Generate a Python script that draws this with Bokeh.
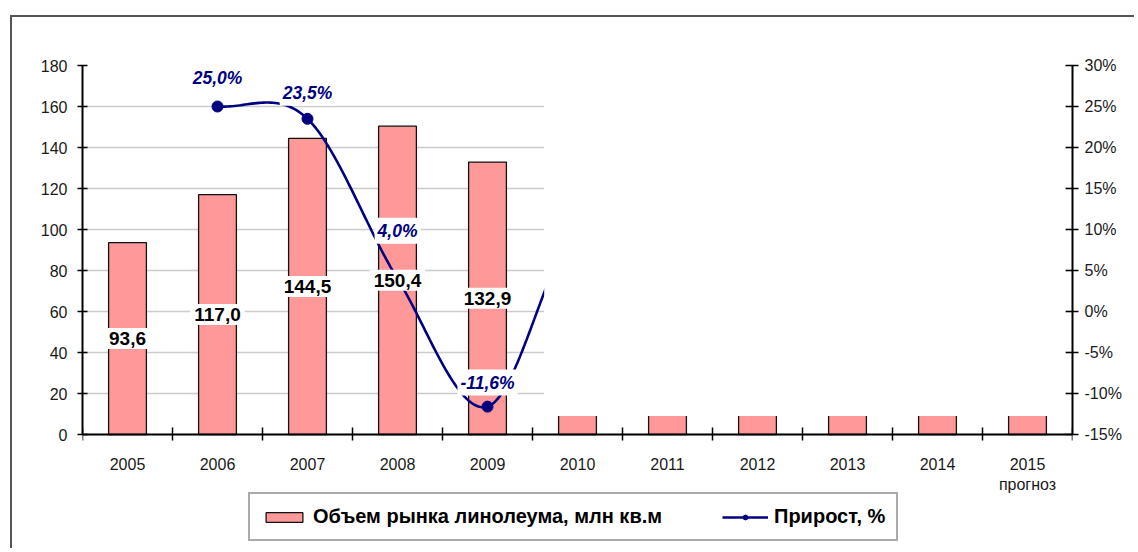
import numpy as np
from bokeh.plotting import figure
from bokeh.models import (Range1d, LinearAxis, FixedTicker, PrintfTickFormatter,
                          ColumnDataSource, BoxAnnotation, Legend, LegendItem, Grid)
from bokeh.embed import file_html
from bokeh.resources import INLINE
from bokeh.core.properties import value

# ---------------- data ----------------
years = ["2005", "2006", "2007", "2008", "2009", "2010",
         "2011", "2012", "2013", "2014", "2015"]
year_tick_labels = ["2005", "2006", "2007", "2008", "2009", "2010",
                    "2011", "2012", "2013", "2014", "2015\nпрогноз"]
# market volume, mln sq.m (2010-2015 are hidden in the source; estimated)
volume = [93.6, 117.0, 144.5, 150.4, 132.9, 146.0, 152.0, 158.0, 164.0, 170.0, 176.0]
volume_labels = ["93,6", "117,0", "144,5", "150,4", "132,9"]
# growth, %  (2010 value hidden in the source; estimated from visible curve)
growth_years = ["2006", "2007", "2008", "2009", "2010"]
growth = [25.0, 23.5, 4.0, -11.6, 10.5]
growth_labels = ["25,0%", "23,5%", "4,0%", "-11,6%"]
y_ticks_left = [0, 20, 40, 60, 80, 100, 120, 140, 160, 180]
y_ticks_right = [-15, -10, -5, 0, 5, 10, 15, 20, 25, 30]

FONT = "Liberation Sans"
NAVY = "#000080"
BAR = "#FF9999"

# ---------------- layout geometry ----------------
W, H = 1124, 533
TOP, LEFT, RIGHT = 48, 70, 64
FRAME_H = H - TOP              # frame runs to the bottom of the canvas
AXIS_H = 369                   # pixel height of the value axes (0..180 / -15..30)
extra = FRAME_H - AXIS_H       # room under the axes for tick labels and legend
L_MAX = y_ticks_left[-1]
L_MIN = y_ticks_left[0] - extra * (L_MAX - y_ticks_left[0]) / AXIS_H
R_MAX, R_MIN0 = y_ticks_right[-1], y_ticks_right[0]
R_MIN = R_MIN0 - extra * (R_MAX - R_MIN0) / AXIS_H

xc = [i + 0.5 for i in range(len(years))]

p = figure(width=W, height=H, output_backend="svg", toolbar_location=None,
           x_range=Range1d(0, len(years)), y_range=Range1d(L_MIN, L_MAX),
           min_border_left=LEFT, min_border_top=TOP, min_border_right=RIGHT,
           min_border_bottom=0, background_fill_color="white",
           border_fill_color="white")
p.styles = {"border-left": "2px solid #555555", "border-top": "2px solid #555555",
            "margin-left": "10px", "margin-top": "15px"}
p.outline_line_color = None

p.extra_y_ranges = {"pct": Range1d(R_MIN, R_MAX)}

# grid
p.xgrid.visible = False
p.ygrid.ticker = FixedTicker(ticks=y_ticks_left[:-1])
p.ygrid.grid_line_color = "#cccccc"
p.ygrid.grid_line_width = 1.5
top_line = Grid(dimension=1, ticker=FixedTicker(ticks=[L_MAX]),
                grid_line_color="#999999", grid_line_width=2)
p.add_layout(top_line)

# x axis (drawn at value 0)
xa = p.xaxis[0]
xa.fixed_location = 0
xa.ticker = FixedTicker(ticks=xc, minor_ticks=list(range(len(years) + 1)))
xa.major_label_overrides = {x: lab for x, lab in zip(xc, year_tick_labels)}
xa.major_tick_in = 0
xa.major_tick_out = 0
xa.minor_tick_in = 7
xa.minor_tick_out = 6
xa.minor_tick_line_color = "black"
xa.minor_tick_line_width = 1.5
xa.axis_line_color = "black"
xa.axis_line_width = 2
xa.major_label_standoff = 15
xa.major_label_text_font = FONT
xa.major_label_text_font_size = "16px"
xa.major_label_text_color = "#1a1a1a"

# left axis
ya = p.yaxis[0]
ya.ticker = FixedTicker(ticks=y_ticks_left)
ya.bounds = (y_ticks_left[0], L_MAX)
ya.minor_tick_line_color = None
ya.major_tick_in = 5
ya.major_tick_out = 5
ya.major_tick_line_width = 1.5
ya.axis_line_color = "black"
ya.axis_line_width = 2
ya.major_label_standoff = 10
ya.major_label_text_font = FONT
ya.major_label_text_font_size = "16px"
ya.major_label_text_color = "#1a1a1a"

# right axis
ra = LinearAxis(y_range_name="pct", ticker=FixedTicker(ticks=y_ticks_right),
                formatter=PrintfTickFormatter(format="%d%%"),
                bounds=(R_MIN0, R_MAX))
ra.minor_tick_line_color = None
ra.major_tick_in = 7
ra.major_tick_out = 6
ra.major_tick_line_width = 1.5
ra.axis_line_color = "black"
ra.axis_line_width = 2
ra.major_label_standoff = 6
ra.major_label_text_font = FONT
ra.major_label_text_font_size = "16px"
ra.major_label_text_color = "#1a1a1a"
p.add_layout(ra, "right")

# bars
bars = p.vbar(x=xc, top=volume, width=0.42, fill_color=BAR, line_color="#111111",
              line_width=1.3)

# smoothed growth line (Catmull-Rom through the points)
gx = np.array([years.index(y) + 0.5 for y in growth_years])
gy = np.array(growth)
n = len(gx)
m = np.zeros(n)
for i in range(n):
    if i == 0:
        m[i] = (gy[1] - gy[0]) / 2
    elif i == n - 1:
        m[i] = (gy[-1] - gy[-2]) / 2
    else:
        m[i] = (gy[i + 1] - gy[i - 1]) / 2
sx, sy = [], []
for i in range(n - 1):
    t = np.linspace(0, 1, 40)
    h00 = 2 * t**3 - 3 * t**2 + 1
    h10 = t**3 - 2 * t**2 + t
    h01 = -2 * t**3 + 3 * t**2
    h11 = t**3 - t**2
    yy = h00 * gy[i] + h10 * m[i] + h01 * gy[i + 1] + h11 * m[i + 1]
    xx = gx[i] + t * (gx[i + 1] - gx[i])
    sx.extend(xx.tolist())
    sy.extend(yy.tolist())
line = p.line(sx, sy, y_range_name="pct", line_color=NAVY, line_width=2.6)
marks = p.scatter(gx[:4], gy[:4], y_range_name="pct", size=11, fill_color=NAVY,
                  line_color=NAVY)

# mask that hides the right part of the chart in the source image
mask = BoxAnnotation(left=5.13, right=10.92, bottom=9, top=177.8,
                     fill_color="white", fill_alpha=1.0, line_color=None)
p.add_layout(mask)

# bar value labels
bsrc = ColumnDataSource(dict(x=xc[:5], y=[v / 2 for v in volume[:5]], t=volume_labels))
p.text(x="x", y="y", text="t", source=bsrc, text_align="center",
       text_baseline="middle", text_font=value(FONT), text_font_size="19px",
       text_font_style="bold", text_color="black",
       background_fill_color="white", padding=4)

# growth labels
gsrc = ColumnDataSource(dict(x=gx[:4].tolist(), y=gy[:4].tolist(), t=growth_labels,
                             yo=[-29, -26, -48, -24]))
p.text(x="x", y="y", text="t", source=gsrc, y_range_name="pct",
       y_offset="yo", text_align="center", text_baseline="middle",
       text_font=value(FONT), text_font_size="17.5px", text_font_style="bold italic",
       text_color=NAVY, background_fill_color="white", padding=3)

# legend
legend = Legend(items=[
    LegendItem(label="Объем рынка линолеума, млн кв.м", renderers=[bars]),
    LegendItem(label="Прирост, %", renderers=[line, marks]),
], orientation="horizontal", location=(166, 9),
    border_line_color="#555555", border_line_width=2,
    label_text_font=FONT, label_text_font_size="20px", label_text_font_style="bold",
    label_text_color="black", glyph_width=46, glyph_height=12, label_standoff=6,
    spacing=60, padding=11, margin=0, background_fill_color="white")
p.add_layout(legend, "center")

open("out.html", "w").write(file_html(p, INLINE))
